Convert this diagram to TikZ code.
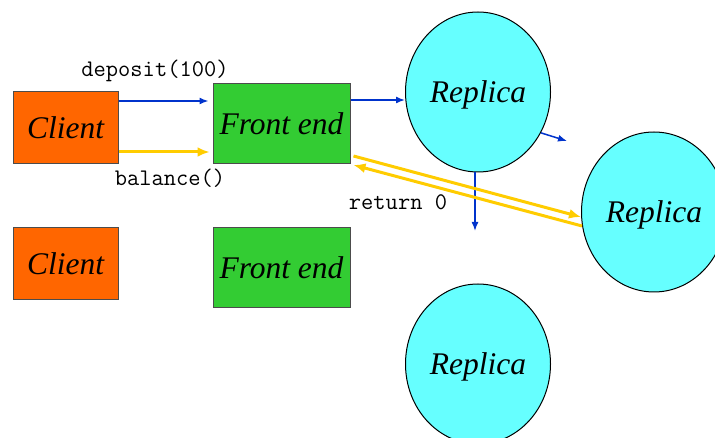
\documentclass[tikz,border=0pt]{standalone}
\usepackage{fontspec}
\setmainfont{Liberation Serif}
\usetikzlibrary{shapes.geometric,arrows.meta}
\definecolor{clientc}{HTML}{FF6600}
\definecolor{frontc}{HTML}{33CC33}
\definecolor{replc}{HTML}{66FFFF}
\definecolor{bluec}{HTML}{0033CC}
\definecolor{yellc}{HTML}{FFCC00}
\tikzset{
  clientbox/.style={draw=black!70, line width=1pt, fill=clientc, minimum width=105pt, minimum height=72pt, inner sep=0pt, text depth=0pt, font=\fontsize{31.5}{34}\selectfont\itshape},
  frontbox/.style={draw=black!70, line width=1pt, fill=frontc, minimum width=137pt, minimum height=80pt, inner sep=0pt, text depth=0pt, font=\fontsize{31.5}{34}\selectfont\itshape},
  replnode/.style={ellipse, draw=black, line width=1pt, fill=replc, minimum width=145pt, minimum height=160pt, inner sep=0pt, text depth=0pt, font=\fontsize{31.5}{34}\selectfont\itshape},
  codetext/.style={font=\fontsize{23.8}{25}\selectfont\ttfamily, inner sep=0pt},
  bluearrow/.style={draw=bluec, line width=1.5pt, -{Latex[length=9pt,width=7pt]}},
  yellarrow/.style={draw=yellc, line width=3pt, -{Latex[length=12pt,width=10pt]}}
}
\begin{document}
\begin{tikzpicture}[x=1pt,y=-1pt]
\useasboundingbox (0,0) rectangle (715,438);
\clip (0,0) rectangle (715,438);
\node[clientbox] (c1) at (65.5,128) {Client};
\node[clientbox] (c2) at (65.5,264) {Client};
\node[frontbox] (f1) at (281.5,124) {Front end};
\node[frontbox] (f2) at (281.5,268) {Front end};
\node[replnode] (r1) at (478,92) {Replica};
\node[replnode] (r2) at (654,212) {Replica};
\node[replnode] (r3) at (478,364) {Replica};
\node[codetext] (dep) at (155,71) {deposit(100)};
\node[codetext] (bal) at (170,178) {balance()};
\node[codetext] (ret) at (398,202) {return 0};
\coordinate (e1) at (567,141);
\coordinate (e2) at (475,231);
\draw[bluearrow] ([yshift=27pt]c1.east) -- ([yshift=23pt,xshift=-4pt]f1.west);
\draw[yellarrow] ([yshift=-24pt]c1.east) -- ([yshift=-28pt,xshift=-3pt]f1.west);
\draw[bluearrow] ([yshift=24pt]f1.east) -- ([yshift=-8pt]r1.west);
\draw[bluearrow] (r1.-33) -- (e1);
\draw[bluearrow] ([xshift=-3pt]r1.south) -- (e2);
\draw[yellarrow] ([xshift=3pt,yshift=-32pt]f1.east) -- ([yshift=-5pt]r2.west);
\draw[yellarrow] ([xshift=1pt,yshift=-14pt]r2.west) -- ([xshift=3pt,yshift=-41pt]f1.east);
\end{tikzpicture}
\end{document}
